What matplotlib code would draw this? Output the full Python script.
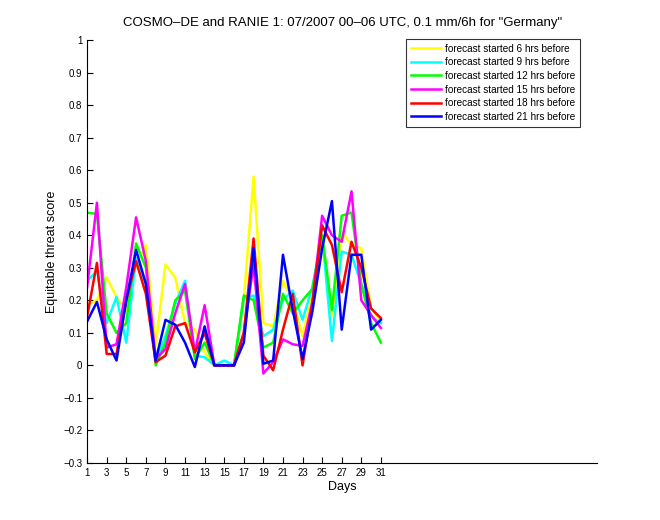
import numpy as np
import matplotlib
matplotlib.use("Agg")
import matplotlib.pyplot as plt

plt.rcParams['font.family'] = ['Liberation Sans', 'DejaVu Sans']

# Data
days = list(range(1, 32))

ets_6h = [0.185, 0.20, 0.27, 0.21, 0.17, 0.31, 0.37, 0.06, 0.31, 0.27, 0.13, 0.11, 0.04, 0.0, 0.0, 0.0,
          0.20, 0.58, 0.13, 0.12, 0.26, 0.20, 0.09, 0.22, 0.40, 0.15, 0.41, 0.37, 0.36, 0.175, 0.135]
ets_9h = [0.26, 0.29, 0.13, 0.21, 0.07, 0.33, 0.25, 0.015, 0.09, 0.19, 0.26, 0.03, 0.025, 0.0, 0.015, 0.0,
          0.205, 0.215, 0.09, 0.11, 0.20, 0.23, 0.14, 0.24, 0.40, 0.075, 0.35, 0.34, 0.25, 0.15, 0.13]
ets_12h = [0.47, 0.465, 0.16, 0.10, 0.13, 0.375, 0.30, 0.0, 0.07, 0.20, 0.23, 0.02, 0.07, 0.0, 0.0, 0.0,
           0.215, 0.20, 0.055, 0.07, 0.22, 0.16, 0.20, 0.235, 0.40, 0.17, 0.46, 0.47, 0.25, 0.13, 0.07]
ets_15h = [0.24, 0.50, 0.055, 0.065, 0.24, 0.455, 0.32, 0.02, 0.05, 0.16, 0.25, 0.04, 0.185, 0.0, 0.0, 0.0,
           0.10, 0.31, -0.025, 0.01, 0.08, 0.065, 0.06, 0.195, 0.46, 0.40, 0.38, 0.535, 0.20, 0.155, 0.115]
ets_18h = [0.15, 0.315, 0.035, 0.035, 0.20, 0.32, 0.22, 0.01, 0.03, 0.12, 0.13, 0.04, 0.10, 0.0, 0.0, 0.0,
           0.10, 0.39, 0.03, -0.015, 0.11, 0.22, 0.0, 0.19, 0.43, 0.37, 0.225, 0.38, 0.30, 0.175, 0.145]
ets_21h = [0.135, 0.195, 0.08, 0.015, 0.20, 0.355, 0.25, 0.015, 0.14, 0.125, 0.07, -0.005, 0.12, 0.0, 0.0, 0.0,
           0.07, 0.36, 0.005, 0.015, 0.34, 0.17, 0.02, 0.165, 0.36, 0.505, 0.11, 0.34, 0.34, 0.11, 0.14]

series = [ets_6h, ets_9h, ets_12h, ets_15h, ets_18h, ets_21h]
labels = ['forecast started 6 hrs before', 'forecast started 9 hrs before',
          'forecast started 12 hrs before', 'forecast started 15 hrs before',
          'forecast started 18 hrs before', 'forecast started 21 hrs before']
colors = ['#ffff00', '#00ffff', '#00ff00', '#ff00ff', '#ff0000', '#0000ff']

fig = plt.figure(figsize=(6.6, 5.2), dpi=100)
ax = fig.add_axes([0.132, 0.1096, 0.773, 0.8134])

for vals, lab, col in zip(series, labels, colors):
    ax.plot(days, vals, color=col, linewidth=1.8, label=lab)

yticks = np.round(np.arange(-0.3, 1.01, 0.1), 1)
ax.set_xlim(1, 53.1)
ax.set_ylim(-0.3, 1)
ax.set_xticks(range(1, 32, 2))
ax.set_yticks(yticks)
ax.set_yticklabels([('%g' % v).replace('-', '\u2212') for v in yticks])
ax.tick_params(direction='in', length=4, labelsize=7, width=0.8)
ax.spines['top'].set_visible(False)
ax.spines['right'].set_visible(False)
for s in ['left', 'bottom']:
    ax.spines[s].set_linewidth(0.8)

ax.set_xlabel('Days', fontsize=9, labelpad=2)
ax.set_ylabel('Equitable threat score', fontsize=9, labelpad=4)
ax.set_title('COSMO\u2013DE and RANIE 1: 07/2007 00\u201306 UTC, 0.1 mm/6h for "Germany"', fontsize=9.5, pad=10)

leg = ax.legend(loc='upper right', bbox_to_anchor=(0.967, 1.003), fontsize=7.2, frameon=True,
                fancybox=False, edgecolor='black', handlelength=3.0, handletextpad=0.4,
                labelspacing=0.36, borderpad=0.5, borderaxespad=0)
leg.get_frame().set_linewidth(0.8)

fig.savefig('out.png', dpi=100)
